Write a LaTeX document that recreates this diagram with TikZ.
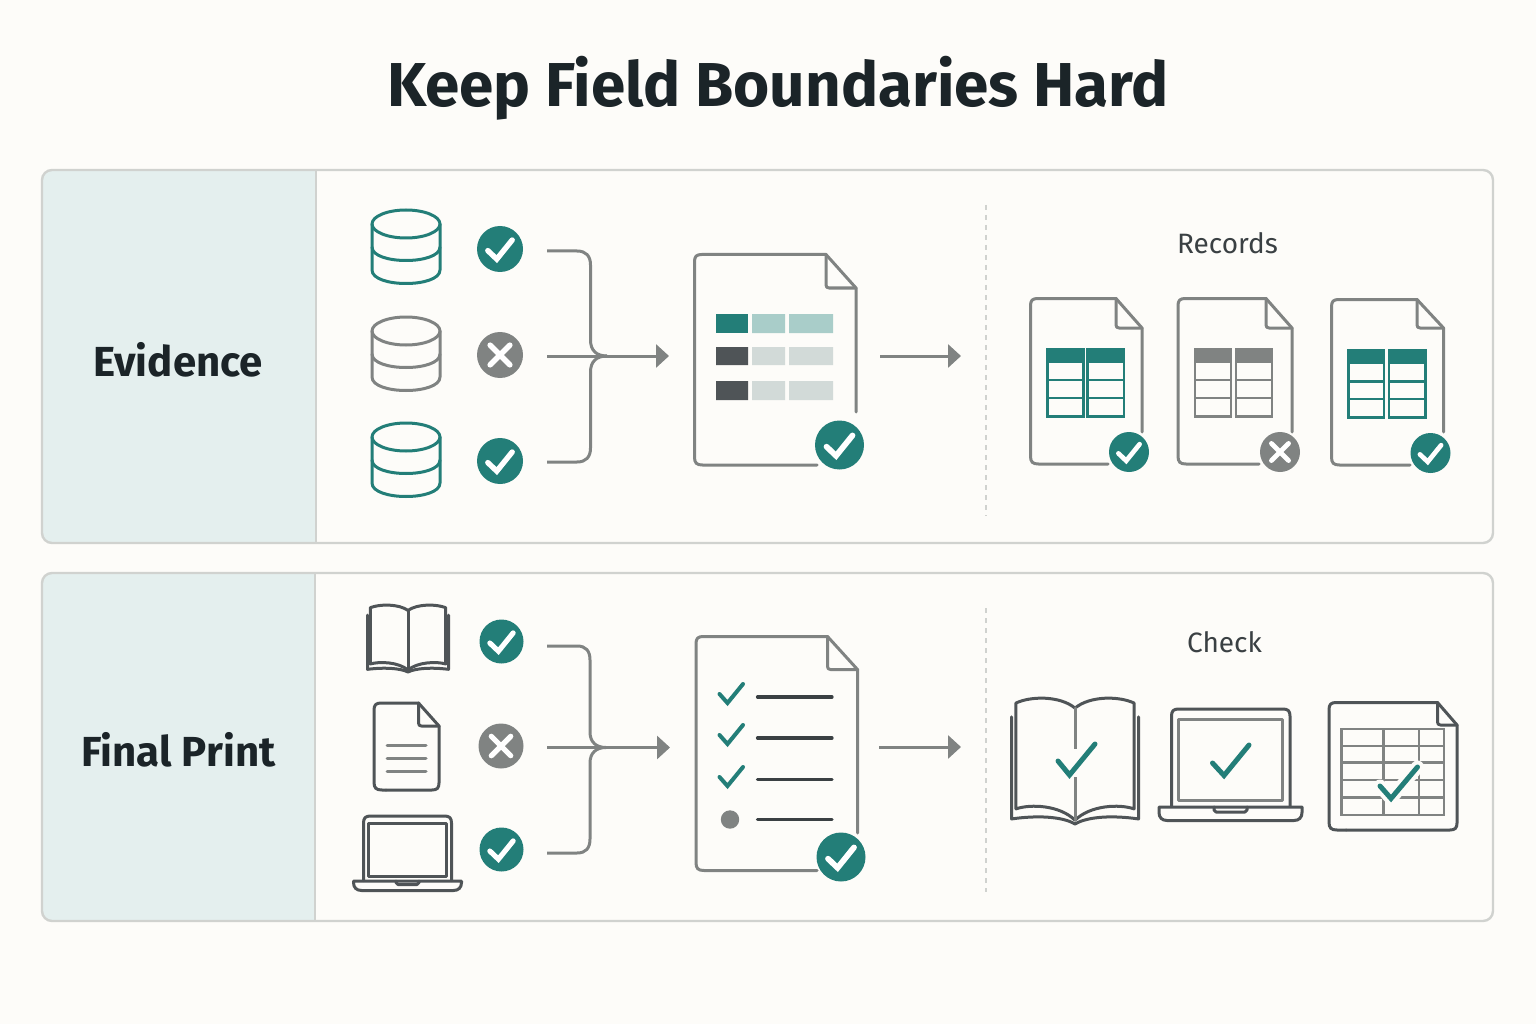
\documentclass[tikz,border=0pt]{standalone}
\usepackage{fontspec}
\setmainfont{Fira Sans}
\usetikzlibrary{arrows.meta}
\definecolor{bgc}{HTML}{FDFCF9}
\definecolor{teal}{HTML}{237E78}
\definecolor{gry}{HTML}{808382}
\definecolor{dark}{HTML}{4F5457}
\definecolor{ink}{HTML}{1B2428}
\definecolor{txt}{HTML}{3A4043}
\definecolor{band}{HTML}{E4EFEE}
\definecolor{rule}{HTML}{D0D2CF}
\definecolor{ltteal}{HTML}{A9CDC9}
\definecolor{ltgray}{HTML}{D2DAD8}
\tikzset{
  x=1pt,y=-1pt,
  panel/.style={draw=rule,line width=2.4pt,rounded corners=10pt},
  flow/.style={draw=gry,line width=3pt},
  arrowline/.style={flow,-{Triangle[length=13pt,width=23pt]}},
  sep/.style={draw=rule,line width=1.4pt,dash pattern=on 5pt off 5pt},
  icon/.style={line width=3pt,line join=round,line cap=round},
  tick/.style={draw=teal,line width=5pt,line cap=round,line join=miter},
  label/.style={font=\fontsize{42}{46}\selectfont\bfseries,text=ink,inner sep=0pt},
  sublabel/.style={font=\fontsize{28}{32}\selectfont,text=txt,inner sep=0pt}
}
\newcommand{\BadgeOk}[3]{%
  \fill[teal] (#1,#2) circle[radius=#3];
  \draw[white,line width=#3*0.235pt,line cap=round,line join=miter]
    ({#1-0.53*#3},{#2+0.07*#3}) -- ({#1-0.14*#3},{#2+0.44*#3}) -- ({#1+0.53*#3},{#2-0.39*#3});}
\newcommand{\BadgeNo}[3]{%
  \fill[gry] (#1,#2) circle[radius=#3];
  \draw[white,line width=#3*0.235pt,line cap=round]
    ({#1-0.43*#3},{#2-0.43*#3}) -- ({#1+0.43*#3},{#2+0.43*#3})
    ({#1-0.43*#3},{#2+0.43*#3}) -- ({#1+0.43*#3},{#2-0.43*#3});}
\newcommand{\DB}[3]{%
  \begin{scope}[shift={(#1,#2)},icon,draw=#3]
    \draw (0,14) ellipse[x radius=34,y radius=14];
    \draw (-34,14) -- (-34,60) .. controls (-34,78) and (34,78) .. (34,60) -- (34,14);
    \draw (-34,37) .. controls (-34,55) and (34,55) .. (34,37);
  \end{scope}}
\newcommand{\Doc}[9]{%
  \draw[icon,draw=#9] (#5,#7) -- (#5,#4) -- (#3,#2) -- (#1+7,#2)
    .. controls (#1+2,#2) and (#1,#2+2) .. (#1,#2+7) -- (#1,#6-8)
    .. controls (#1,#6-2) and (#1+2,#6) .. (#1+8,#6) -- (#8,#6);
  \draw[icon,draw=#9] (#3,#2) -- (#3,#4-3) .. controls (#3,#4-1) and (#3+1,#4) .. (#3+3,#4) -- (#5,#4);}
\newcommand{\RecTable}[9]{%
  \foreach \a/\b in {#1/#2,#3/#4}{
    \fill[fill=\RecCol] (\a,#5) rectangle (\b,#6);
    \draw[draw=\RecCol,line width=2.7pt] (\a,#5) rectangle (\b,#9);
    \draw[draw=\RecCol,line width=2.7pt] (\a,#7) -- (\b,#7) (\a,#8) -- (\b,#8);
  }}
\newcommand{\Book}[5]{%
  \begin{scope}[shift={(#1,#2)},xscale=#3,yscale=#4,icon,draw=dark]
    \draw (.035,.04) .. controls (.15,-.015) and (.38,-.02) .. (.5,.08) .. controls (.62,-.02) and (.85,-.015) .. (.965,.04) -- (.965,.88) .. controls (.85,.84) and (.62,.85) .. (.5,.97) .. controls (.38,.85) and (.15,.84) .. (.035,.88) -- cycle;
    \draw (0,.15) -- (0,.96) .. controls (.2,.93) and (.4,.94) .. (.5,1) .. controls (.6,.94) and (.8,.93) .. (1,.96) -- (1,.15);
    \draw[draw=#5] (.5,.08) -- (.5,.97);
  \end{scope}}
\newcommand{\Laptop}[9]{%
  \draw[icon,draw=dark] (#1,#4) -- (#1,#3+7) .. controls (#1,#3+2) and (#1+2,#3) .. (#1+7,#3) -- (#2-7,#3) .. controls (#2-2,#3) and (#2,#3+2) .. (#2,#3+7) -- (#2,#4);
  \draw[icon,draw=#9] (#5,#7) rectangle (#6,#8);}
\newcommand{\LapBase}[6]{%
  \draw[icon,draw=dark] (#1,#3) -- (#2,#3) -- (#2,#4-8) .. controls (#2,#4-3) and (#2-3,#4) .. (#2-8,#4) -- (#1+8,#4) .. controls (#1+3,#4) and (#1,#4-3) .. (#1,#4-8) -- cycle;
  \draw[icon,draw=dark] (#5,#3) -- (#5,#6-2) -- (#5+2,#6) -- (#5+\LapN-2,#6) -- (#5+\LapN,#6-2) -- (#5+\LapN,#3);}
\begin{document}
\begin{tikzpicture}
\useasboundingbox (0,0) rectangle (1536,1024);
\fill[bgc] (0,0) rectangle (1536,1024);
\node[font=\fontsize{62}{66}\selectfont\bfseries,text=ink,inner sep=0pt] (title) at (778,88) {Keep Field Boundaries Hard};

\fill[band,rounded corners=10pt] (42,170) -- (316,170) -- (316,543) -- (42,543) -- cycle;
\fill[band] (100,170) rectangle (316,543);
\fill[band,rounded corners=10pt] (42,573) -- (315,573) -- (315,921) -- (42,921) -- cycle;
\fill[band] (100,573) rectangle (315,921);
\draw[panel] (42,170) rectangle (1493,543);
\draw[panel] (42,573) rectangle (1493,921);
\draw[draw=rule,line width=2.4pt] (316,170) -- (316,543);
\draw[draw=rule,line width=2.4pt] (315,573) -- (315,921);
\draw[sep] (986,205) -- (986,516);
\draw[sep] (986,608) -- (986,892);
\node[label] (evi) at (178,360) {Evidence};
\node[label] (fin) at (178.5,750) {Final Print};
\node[sublabel] (rec) at (1227.5,243) {Records};
\node[sublabel] (chk) at (1224.5,642) {Check};

\DB{406}{210}{teal}\DB{406}{317}{gry}\DB{406}{423}{teal}
\BadgeOk{500}{249}{23}\BadgeNo{500}{355}{23}\BadgeOk{500}{461}{23}
\coordinate (a1) at (547,251); \coordinate (a2) at (547,356); \coordinate (a3) at (547,462);
\coordinate (aj) at (607,356); \coordinate (at) at (669,356);
\coordinate (b1) at (880,356); \coordinate (b2) at (961,356);
\draw[flow] (a1) -- (577,251) .. controls (586,251) and (590.5,256) .. (590.5,265) -- (590.5,340) .. controls (590.5,350) and (596,356) .. (aj);
\draw[flow] (a3) -- (577,462) .. controls (586,462) and (590.5,457) .. (590.5,448) -- (590.5,372) .. controls (590.5,362) and (596,356) .. (aj);
\draw[arrowline] (a2) -- (at);
\draw[arrowline] (b1) -- (b2);

\Doc{694.5}{254.5}{826}{288}{856}{465}{412}{817}{gry}
\fill[teal] (716,314) rectangle (748,333);
\fill[ltteal] (752,314) rectangle (785,333) (789,314) rectangle (833,333);
\fill[dark] (716,347) rectangle (748,365) (716,381) rectangle (748,400);
\fill[ltgray] (752,347) rectangle (785,365) (789,347) rectangle (833,365)
  (752,381) rectangle (785,400) (789,381) rectangle (833,400);
\BadgeOk{839.5}{445}{24.5}

\Doc{1030.5}{298.5}{1116}{328}{1142}{464}{432}{1108}{gry}
\def\RecCol{teal}\RecTable{1047.5}{1083.5}{1087.5}{1124}{349}{362.5}{380}{398}{416.5}
\BadgeOk{1129}{452}{20}
\Doc{1178}{298.5}{1266}{328}{1292}{464}{432}{1259}{gry}
\def\RecCol{gry}\RecTable{1195}{1231}{1236}{1272}{349}{362.5}{380}{398}{416.5}
\BadgeNo{1280}{452}{20}
\Doc{1331.5}{299.5}{1417}{328}{1443.5}{465}{432}{1410}{gry}
\def\RecCol{teal}\RecTable{1348.5}{1384}{1389}{1425.5}{350.5}{364}{381.5}{399}{417.5}
\BadgeOk{1430.5}{453}{20}

\Book{367.5}{605}{81}{67}{dark}
\BadgeOk{501.5}{641.5}{22}\BadgeNo{501}{746}{22.5}\BadgeOk{501.5}{849.5}{22}
\Doc{374}{703}{418.5}{726}{439}{790}{726}{386}{dark}
\draw[icon,draw=gry] (387,745.5) -- (426,745.5) (387,758.5) -- (426,758.5) (387,771) -- (426,771);
\draw[icon,draw=dark] (386,790) -- (432,790) .. controls (437,790) and (439,788) .. (439,783) -- (439,726);
\Laptop{363.5}{451.5}{816}{880.5}{368.5}{446.5}{823}{876.5}{dark}
\def\LapN{23}\LapBase{353.5}{461.5}{881}{890.5}{396}{884.5}

\coordinate (c1) at (547,646); \coordinate (c2) at (547,747.5); \coordinate (c3) at (547,853);
\coordinate (cj) at (606,747.5); \coordinate (ct) at (670,747.5);
\coordinate (d1) at (879,747); \coordinate (d2) at (961,747);
\draw[flow] (c1) -- (577,646) .. controls (586,646) and (590,651) .. (590,660) -- (590,732) .. controls (590,742) and (596,747.5) .. (cj);
\draw[flow] (c3) -- (577,853) .. controls (586,853) and (590,848) .. (590,839) -- (590,763) .. controls (590,753) and (596,747.5) .. (cj);
\draw[arrowline] (c2) -- (ct);
\draw[arrowline] (d1) -- (d2);

\Doc{696}{636.5}{827.5}{669.5}{857.5}{870.5}{833}{817}{gry}
\foreach \dy in {0,41,83}{
  \draw[draw=teal,line width=4pt,line cap=round] (719.5,694+\dy) -- (727.5,703+\dy) -- (743,684+\dy);
}
\draw[icon,draw=txt,line width=3.2pt] (757.5,697) -- (832,697) (757.5,738) -- (832,738) (757.5,779.5) -- (832,779.5) (757.5,819.5) -- (832,819.5);
\fill[gry] (730,819.5) circle[radius=9.2];
\BadgeOk{841}{857}{24.5}

\Book{1011.5}{698}{127}{126}{gry}
\fill[bgc] (1071,749) rectangle (1080,777);
\draw[tick] (1058,761) -- (1069.5,775) -- (1095,744);
\Laptop{1171.5}{1290}{709}{806.5}{1178}{1282.5}{719.5}{800}{gry}
\def\LapN{33}\LapBase{1159}{1302}{807}{820.5}{1214}{812}
\draw[tick] (1212.5,763) -- (1224,775.5) -- (1249,745);
\Doc{1329}{702.5}{1437.5}{725}{1457}{830}{725}{1346}{dark}
\draw[icon,draw=dark] (1346,830) -- (1450,830) .. controls (1455,830) and (1457,828) .. (1457,823) -- (1457,725);
\draw[draw=gry,line width=2.6pt] (1341.5,729) rectangle (1444,815)
  (1383.5,729) -- (1383.5,815) (1419,729) -- (1419,815)
  (1341.5,746) -- (1444,746) (1341.5,762.5) -- (1444,762.5) (1341.5,780) -- (1444,780) (1341.5,797.5) -- (1444,797.5);
\draw[draw=bgc,line width=13pt,line cap=round] (1380,786) -- (1391,798.5) -- (1417.5,767);
\draw[tick] (1380,786) -- (1391,798.5) -- (1417.5,767);
\end{tikzpicture}
\end{document}
